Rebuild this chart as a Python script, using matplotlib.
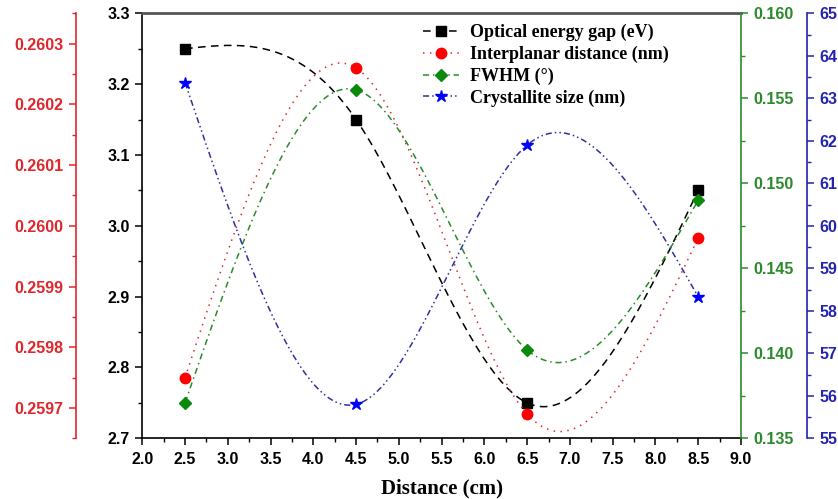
import numpy as np
import matplotlib.pyplot as plt
from matplotlib.lines import Line2D
from matplotlib.ticker import MultipleLocator, FormatStrFormatter

plt.rcParams['font.family'] = ['Liberation Sans', 'DejaVu Sans']
plt.rcParams['font.weight'] = 'bold'

# data
distance = [2.5, 4.5, 6.5, 8.5]
energy_gap = [3.25, 3.15, 2.75, 3.05]               # eV
interplanar = [0.25975, 0.26026, 0.25969, 0.25998]  # nm
fwhm = [0.1371, 0.1555, 0.1402, 0.1490]             # deg
crystallite = [63.37, 55.8, 61.9, 58.33]            # nm

labels = ['Optical energy gap (eV)', 'Interplanar distance (nm)',
          'FWHM (\u00b0)', 'Crystallite size (nm)']

c_red = '#e0262c'
c_green = '#2b8a2b'
c_blue = '#2323b0'

fig = plt.figure(figsize=(8.38, 4.99), dpi=100)
ax = fig.add_axes([0.1698, 0.1216, 0.7144, 0.8517])
ax_red = ax.twinx()
ax_green = ax.twinx()
ax_blue = ax.twinx()


def smooth(x, y, n=300):
    # natural cubic spline connecting the points
    x = np.asarray(x, float)
    y = np.asarray(y, float)
    k = len(x)
    h = np.diff(x)
    A = np.zeros((k, k))
    r = np.zeros(k)
    A[0, 0] = A[-1, -1] = 1
    for i in range(1, k - 1):
        A[i, i - 1] = h[i - 1]
        A[i, i] = 2 * (h[i - 1] + h[i])
        A[i, i + 1] = h[i]
        r[i] = 6 * ((y[i + 1] - y[i]) / h[i] - (y[i] - y[i - 1]) / h[i - 1])
    m = np.linalg.solve(A, r)
    xs = np.linspace(x[0], x[-1], n)
    j = np.clip(np.searchsorted(x, xs) - 1, 0, k - 2)
    t0 = x[j + 1] - xs
    t1 = xs - x[j]
    hj = h[j]
    ys = (m[j] * t0 ** 3 / (6 * hj) + m[j + 1] * t1 ** 3 / (6 * hj)
          + (y[j] / hj - m[j] * hj / 6) * t0 + (y[j + 1] / hj - m[j + 1] * hj / 6) * t1)
    return xs, ys


series = [
    (ax, energy_gap, 'black', 'black', 's', 6.5, (5, 3.5)),
    (ax_red, interplanar, c_red, '#ff0000', 'o', 7.5, (1, 3.5)),
    (ax_green, fwhm, c_green, '#0a8a0a', 'D', 6.5, (4, 2.5, 1, 2.5)),
    (ax_blue, crystallite, '#3030a0', '#0000ff', '*', 9, (4, 2, 1, 2, 1, 2)),
]
handles = []
for a, y, lc, mc, mk, ms, dash in series:
    xs, ys = smooth(distance, y)
    a.plot(xs, ys, color=lc, lw=1.1, dashes=dash)
    a.plot(distance, y, linestyle='none', marker=mk, ms=ms, color=mc)
    handles.append(Line2D([], [], color=lc, lw=1.1, dashes=dash,
                          marker=mk, ms=ms, mfc=mc, mec=mc))

# x axis
ax.set_xlim(2.0, 9.0)
ax.xaxis.set_major_locator(MultipleLocator(0.5))
ax.xaxis.set_minor_locator(MultipleLocator(0.25))
ax.xaxis.set_major_formatter(FormatStrFormatter('%.1f'))
ax.set_xlabel('Distance (cm)', family='Liberation Serif', fontsize=15,
              fontweight='bold', labelpad=8)

# black (main) axis
ax.set_ylim(2.7, 3.3)
ax.yaxis.set_major_locator(MultipleLocator(0.1))
ax.yaxis.set_minor_locator(MultipleLocator(0.05))
ax.yaxis.set_major_formatter(FormatStrFormatter('%.1f'))
ax.spines['right'].set_visible(False)
ax.spines['top'].set_color('#555555')
ax.spines['top'].set_linewidth(2)
ax.tick_params(axis='both', which='both', direction='out', top=False, right=False)

# red axis on far left
ax_red.set_ylim(0.25965, 0.26035)
ax_red.yaxis.set_major_locator(MultipleLocator(0.0001))
ax_red.yaxis.set_minor_locator(MultipleLocator(0.00005))
ax_red.yaxis.set_major_formatter(FormatStrFormatter('%.4f'))
ax_red.spines['left'].set_position(('axes', -0.111))
ax_red.yaxis.set_ticks_position('left')
ax_red.yaxis.set_label_position('left')

# green axis on the right edge
ax_green.set_ylim(0.135, 0.160)
ax_green.yaxis.set_major_locator(MultipleLocator(0.005))
ax_green.yaxis.set_minor_locator(MultipleLocator(0.0025))
ax_green.yaxis.set_major_formatter(FormatStrFormatter('%.3f'))

# blue axis further right
ax_blue.set_ylim(55, 65)
ax_blue.yaxis.set_major_locator(MultipleLocator(1))
ax_blue.yaxis.set_minor_locator(MultipleLocator(0.5))
ax_blue.yaxis.set_major_formatter(FormatStrFormatter('%d'))
ax_blue.spines['right'].set_position(('axes', 1.110))

for a, col, side in [(ax, 'black', 'left'), (ax_red, c_red, 'left'),
                     (ax_green, c_green, 'right'), (ax_blue, c_blue, 'right')]:
    for s in ['left', 'right', 'top', 'bottom']:
        if a is not ax:
            a.spines[s].set_visible(s == side)
    a.spines[side].set_color(col)
    a.spines[side].set_linewidth(1.2)
    a.tick_params(axis='y', which='both', colors=col, direction='out')
    a.tick_params(axis='y', which='major', length=5, width=1.1, pad=4, labelsize=11.5)
    a.tick_params(axis='y', which='minor', length=3, width=1.0)
    for t in a.get_yticklabels():
        t.set_fontweight('bold')

ax.spines['left'].set_linewidth(1.2)
ax.spines['bottom'].set_linewidth(1.2)
ax.tick_params(axis='x', which='major', length=5, width=1.1, pad=5, labelsize=11.5)
ax.tick_params(axis='x', which='minor', length=3, width=1.0)

ax_blue.legend(handles, labels, loc='upper left',
               bbox_to_anchor=(423 / 838, 1 - 24 / 499),
               bbox_transform=fig.transFigure, frameon=False, numpoints=1,
               borderpad=0, borderaxespad=0, handlelength=2.0,
               handletextpad=0.6, labelspacing=0.25,
               prop={'family': 'Liberation Serif', 'weight': 'bold', 'size': 13})

fig.savefig('out.png', dpi=100)
